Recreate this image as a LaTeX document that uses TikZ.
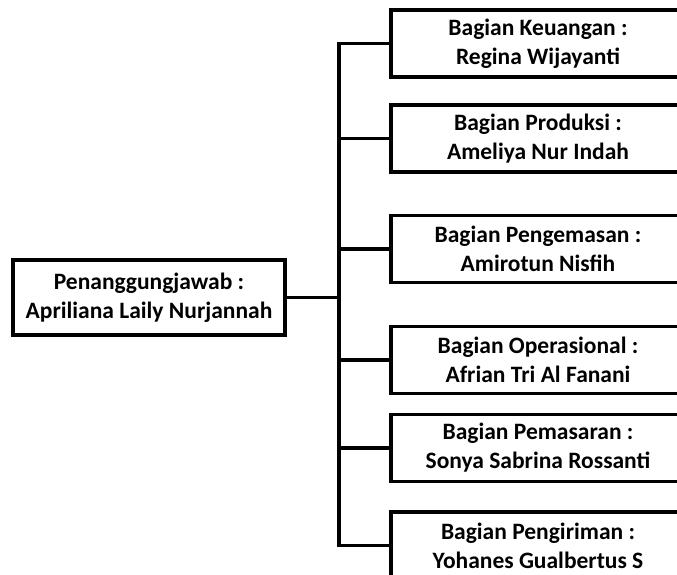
\documentclass[tikz,border=0pt]{standalone}
\usepackage{fontspec}
\setmainfont{Carlito}
\begin{document}
\begin{tikzpicture}[x=1pt,y=-1pt,
  box/.style={draw=black,line width=3.3pt,fill=white,align=center,inner sep=0pt,
    font=\bfseries\fontsize{23.5}{29}\selectfont},
  rbox/.style={box,minimum width=294pt,minimum height=67pt},
  conn/.style={draw=black,line width=3.3pt}]
\useasboundingbox (0,0) rectangle (677,575);
\clip (0,0) rectangle (677,575);
\node[box,minimum width=272pt,minimum height=75pt] (L) at (149,297.5) {Penanggungjawab :\\Apriliana Laily Nurjannah};
\node[rbox] (b1) at (538,43.5) {Bagian Keuangan :\\Regina Wijayanti};
\node[rbox] (b2) at (538,138.5) {Bagian Produksi :\\Ameliya Nur Indah};
\node[rbox] (b3) at (538,249) {Bagian Pengemasan :\\Amirotun Nisfih};
\node[rbox] (b4) at (538,360) {Bagian Operasional :\\Afrian Tri Al Fanani};
\node[rbox] (b5) at (538,448) {Bagian Pemasaran :\\Sonya Sabrina Rossanti};
\node[rbox] (b6) at (538,545.5) {Bagian Pengiriman :\\Yohanes Gualbertus S};
\coordinate (bus) at (339,297.5);
\draw[conn] (L.east) -- (bus);
\draw[conn] (b1.west) -| (bus) |- (b6.west);
\draw[conn] (bus |- b2.west) -- (b2.west);
\draw[conn] (bus |- b3.west) -- (b3.west);
\draw[conn] (bus |- b4.west) -- (b4.west);
\draw[conn] (bus |- b5.west) -- (b5.west);
\end{tikzpicture}
\end{document}
